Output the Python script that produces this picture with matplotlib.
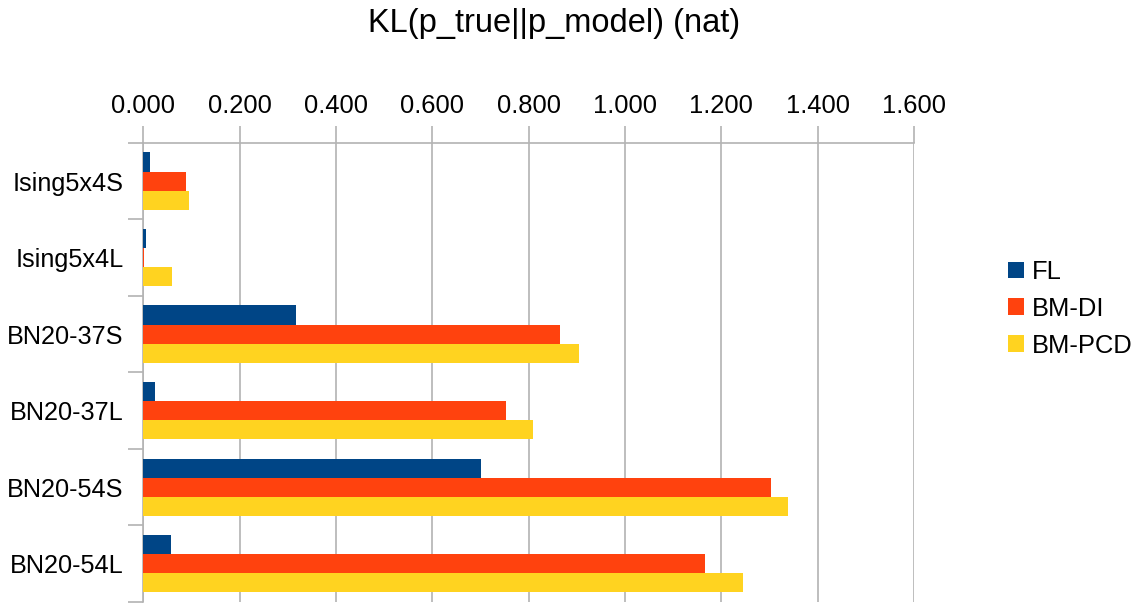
import numpy as np
import matplotlib.pyplot as plt

plt.rcParams['font.family'] = ['Liberation Sans', 'DejaVu Sans']

# Data
categories = ['Ising5x4S', 'Ising5x4L', 'BN20-37S', 'BN20-37L', 'BN20-54S', 'BN20-54L']
fl = [0.014, 0.005, 0.318, 0.025, 0.700, 0.057]
bm_di = [0.089, 0.001, 0.864, 0.752, 1.304, 1.167]
bm_pcd = [0.095, 0.060, 0.905, 0.808, 1.339, 1.244]
series_names = ['FL', 'BM-DI', 'BM-PCD']
colors = ['#004586', '#ff420e', '#ffd320']
xticks = [0.0, 0.2, 0.4, 0.6, 0.8, 1.0, 1.2, 1.4, 1.6]

fig = plt.figure(figsize=(11.41, 6.03), dpi=100)
ax = fig.add_axes([0.1256, 0.0017, 0.6755, 0.7613])

y = np.arange(len(categories))
h = 0.25
for i, (vals, name, c) in enumerate(zip([fl, bm_di, bm_pcd], series_names, colors)):
    ax.barh(y + (i - 1) * h, vals, height=h, color=c, label=name, zorder=3)

ax.set_xlim(0, 1.6)
ax.set_ylim(len(categories) - 0.5, -0.5)
ax.xaxis.tick_top()
ax.set_xticks(xticks)
ax.set_xticklabels(['%.3f' % v for v in xticks], fontsize=18.4)
ax.tick_params(axis='x', length=12, width=1.2, color='#b3b3b3', pad=6)

ax.set_yticks(y)
ax.set_yticklabels(categories, fontsize=18.2)
ax.tick_params(axis='y', which='major', length=0, pad=14)
ax.set_yticks(np.arange(len(categories) + 1) - 0.5, minor=True)
ax.tick_params(axis='y', which='minor', length=11, width=1.2, color='#b3b3b3')

ax.grid(axis='x', color='#b3b3b3', linewidth=1.2, zorder=0)
for s in ['left', 'top']:
    ax.spines[s].set_color('#b3b3b3')
    ax.spines[s].set_linewidth(1.2)
for s in ['right', 'bottom']:
    ax.spines[s].set_visible(False)

fig.text(0.486, 0.947, 'KL(p_true||p_model) (nat)', ha='center', va='baseline', fontsize=23.5)

fig.legend(loc='center left', bbox_to_anchor=(0.8744, 0.488), frameon=False, fontsize=18.4,
           borderaxespad=0, handlelength=0.62, handleheight=0.62, handletextpad=0.3,
           labelspacing=0.5)

fig.savefig('out.png', dpi=100)
